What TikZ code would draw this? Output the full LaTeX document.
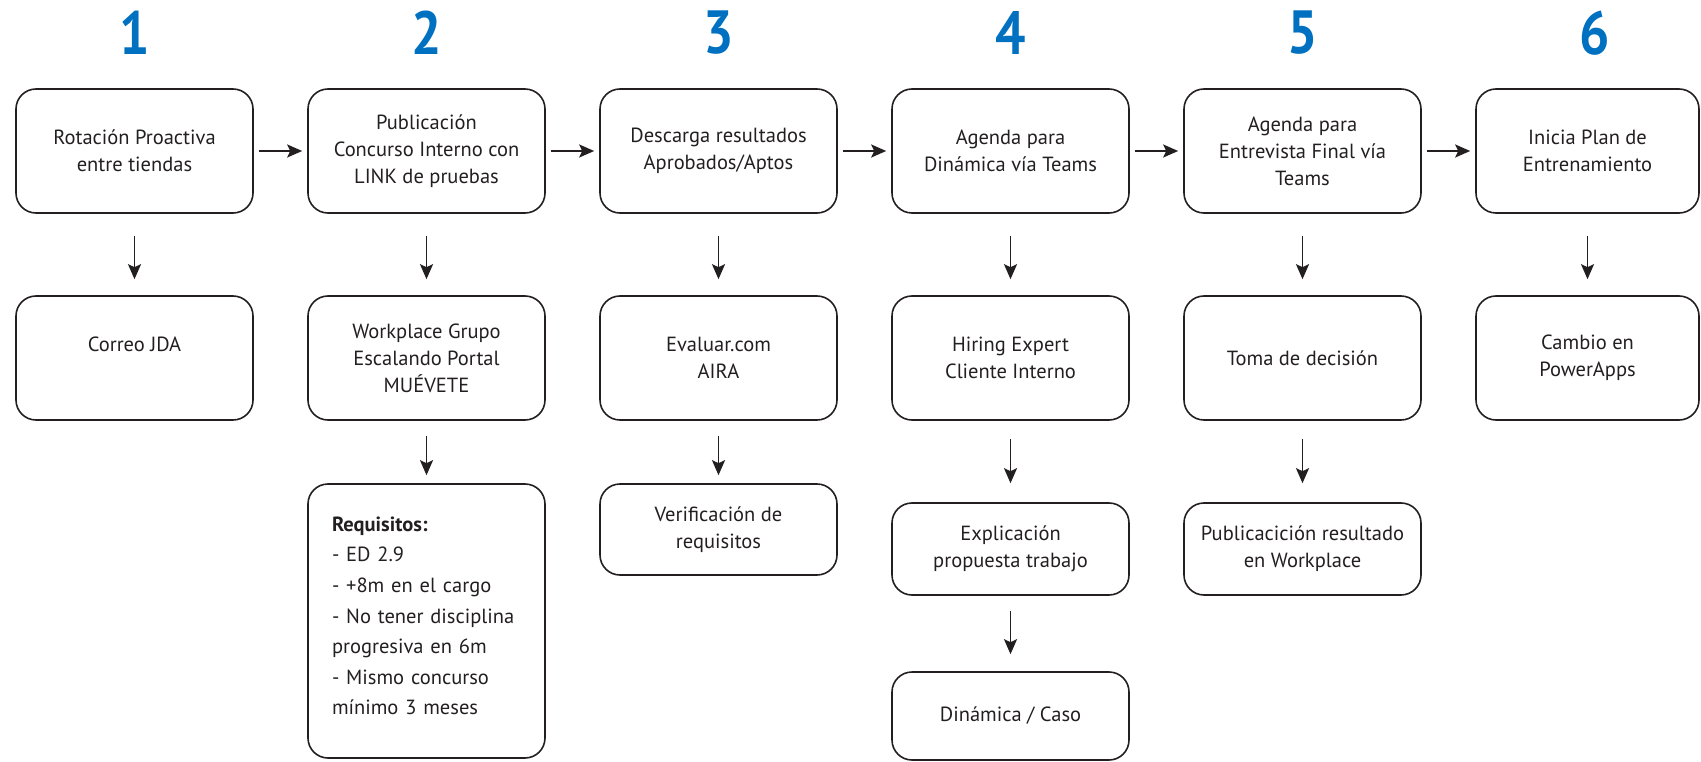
\documentclass[tikz,border=0pt]{standalone}
\usepackage{fontspec}
\setmainfont{PT Sans}
\usetikzlibrary{arrows.meta}
\definecolor{numblue}{RGB}{0,112,192}
\definecolor{ink}{RGB}{35,31,32}
\begin{document}
\begin{tikzpicture}[x=1pt,y=-1pt,
  box/.style={draw=ink, line width=1.6pt, rounded corners=20pt, minimum width=237pt,
    align=center, inner sep=0pt, text=ink, font=\fontsize{20.5pt}{27pt}\selectfont},
  num/.style={text=numblue, inner sep=0pt, font=\fontsize{61pt}{61pt}\selectfont\bfseries},
  arr/.style={draw=ink, line width=1.7pt, -{Stealth[length=15pt,width=13pt,inset=3pt]}}
]
\useasboundingbox (0,0) rectangle (1701,762);
\newcommand{\dg}[1]{\scalebox{0.88}[1]{#1}}
% numbers
\node[num] (n1) at (134.5,33) {\dg{1}};
\node[num] (n2) at (426.5,33) {\dg{2}};
\node[num] (n3) at (718.5,33) {\dg{3}};
\node[num] (n4) at (1010.5,33) {\dg{4}};
\node[num] (n5) at (1302.5,33) {\dg{5}};
\node[num] (n6) at (1594.5,33) {\dg{6}};
% row 1
\node[box, minimum height=124pt] (a1) at (134.5,151) {Rotación Proactiva\\entre tiendas};
\node[box, minimum height=124pt] (a2) at (426.5,151) {Publicación\\Concurso Interno con\\LINK de pruebas};
\node[box, minimum height=124pt] (a3) at (718.5,151) {Descarga resultados\\Aprobados/Aptos};
\node[box, minimum height=124pt] (a4) at (1010.5,151) {Agenda para\\Dinámica vía Teams};
\node[box, minimum height=124pt] (a5) at (1302.5,151) {Agenda para\\Entrevista Final vía\\Teams};
\node[box, minimum height=124pt, minimum width=223pt] (a6) at (1587.5,151) {Inicia Plan de\\Entrenamiento};
% row 2
\node[box, minimum height=124pt] (b1) at (134.5,358) {Correo JDA\\\phantom{X}};
\node[box, minimum height=124pt] (b2) at (426.5,358) {Workplace Grupo\\Escalando Portal\\MUÉVETE};
\node[box, minimum height=124pt] (b3) at (718.5,358) {Evaluar.com\\AIRA};
\node[box, minimum height=124pt] (b4) at (1010.5,358) {Hiring Expert\\Cliente Interno};
\node[box, minimum height=124pt] (b5) at (1302.5,358) {Toma de decisión};
\node[box, minimum height=124pt, minimum width=223pt] (b6) at (1587.5,358) {Cambio en\\PowerApps};
% row 3
\node[box, minimum height=274pt, align=left, text width=189pt, inner xsep=24pt,
  font=\fontsize{20.5pt}{30.6pt}\selectfont] (c2) at (426.5,621)
  {\textbf{Requisitos:}\\- ED 2.9\\- +8m en el cargo\\- No tener disciplina\\progresiva en 6m\\- Mismo concurso\\mínimo 3 meses\par\vspace{10pt}};
\node[box, minimum height=91pt] (c3) at (718.5,529.5) {Verificación de\\requisitos};
\node[box, minimum height=92pt] (c4) at (1010.5,549) {Explicación\\propuesta trabajo};
\node[box, minimum height=92pt] (c5) at (1302.5,549) {Publicacición resultado\\en Workplace};
% row 4
\node[box, minimum height=88pt] (d4) at (1010.5,716) {Dinámica / Caso};
% horizontal arrows
\foreach \i/\j in {1/2,2/3,3/4,4/5,5/6}
  \draw[arr, shorten <=5pt, shorten >=5pt] (a\i.east) -- (a\j.west);
% vertical arrows
\foreach \i in {1,...,6}
  \draw[arr, shorten <=22pt, shorten >=16pt] (a\i.south) -- (b\i.north);
\draw[arr, shorten <=15pt, shorten >=8pt] (b2.south) -- (c2.north);
\draw[arr, shorten <=15pt, shorten >=8pt] (b3.south) -- (c3.north);
\draw[arr, shorten <=18pt, shorten >=19pt] (b4.south) -- (c4.north);
\draw[arr, shorten <=18pt, shorten >=19pt] (b5.south) -- (c5.north);
\draw[arr, shorten <=15pt, shorten >=17pt] (c4.south) -- (d4.north);
\end{tikzpicture}
\end{document}
